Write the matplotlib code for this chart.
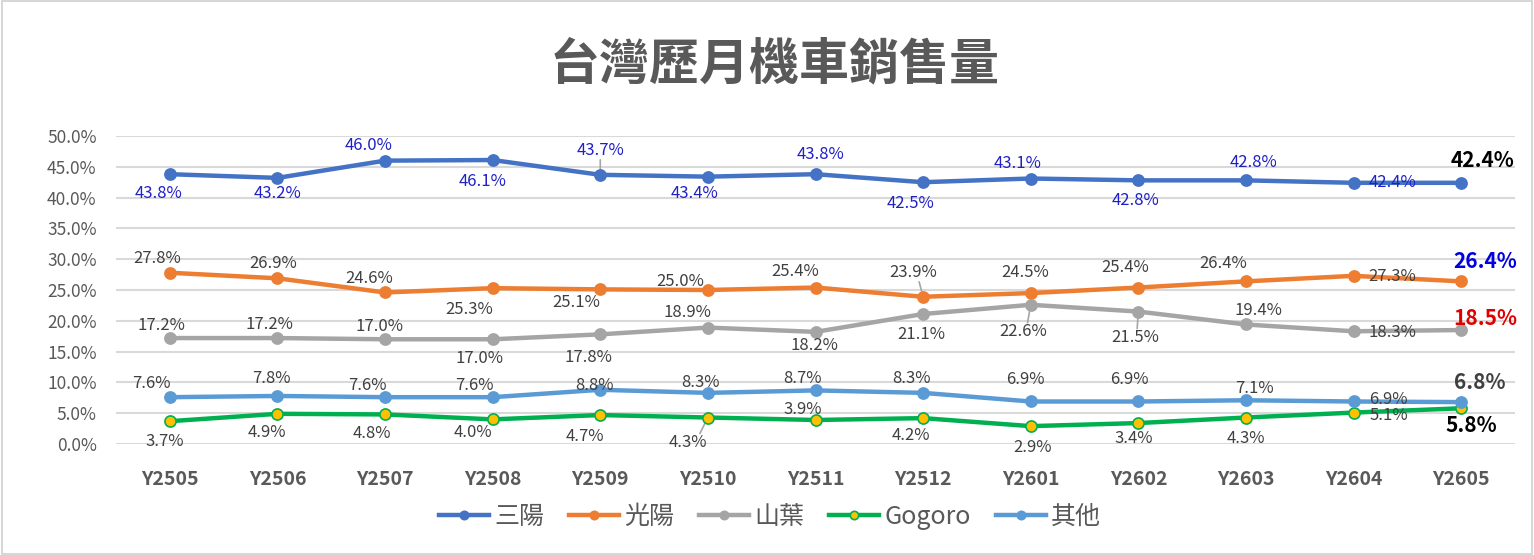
import matplotlib
matplotlib.use("Agg")
import matplotlib.pyplot as plt
from matplotlib.patches import Rectangle

plt.rcParams['font.family'] = ['Noto Sans CJK TC', 'DejaVu Sans']

months = ["Y2505", "Y2506", "Y2507", "Y2508", "Y2509", "Y2510", "Y2511",
          "Y2512", "Y2601", "Y2602", "Y2603", "Y2604", "Y2605"]

sym = [43.8, 43.2, 46.0, 46.1, 43.7, 43.4, 43.8, 42.5, 43.1, 42.8, 42.8, 42.4, 42.4]
kymco = [27.8, 26.9, 24.6, 25.3, 25.1, 25.0, 25.4, 23.9, 24.5, 25.4, 26.4, 27.3, 26.4]
yamaha = [17.2, 17.2, 17.0, 17.0, 17.8, 18.9, 18.2, 21.1, 22.6, 21.5, 19.4, 18.3, 18.5]
gogoro = [3.7, 4.9, 4.8, 4.0, 4.7, 4.3, 3.9, 4.2, 2.9, 3.4, 4.3, 5.1, 5.8]
others = [7.6, 7.8, 7.6, 7.6, 8.8, 8.3, 8.7, 8.3, 6.9, 6.9, 7.1, 6.9, 6.8]

names = ["三陽", "光陽", "山葉", "Gogoro", "其他"]

# label offsets in pixels (dx, dy; dy positive = down, like the screen)
off_sym = [(-11, 19), (0, 16), (-16, -15), (-10, 21), (0, -24), (-13, 17), (5, -20),
           (-13, 21), (-13, -15), (-3, 20), (8, -18), (39, 0), (21, -22)]
off_kymco = [(-13, -14), (-4, -15), (-16, -14), (-23, 21), (-24, 13), (-28, -9), (-20, -16),
             (-10, -24), (-6, -21), (-13, -20), (-23, -18), (39, 1), (24, -20)]
off_yamaha = [(-8, -13), (-8, -14), (-6, -13), (-13, 19), (-12, 23), (-20, -15), (-1, 14),
              (-2, 20), (-8, 27), (-3, 26), (12, -14), (39, 1), (24, -12)]
off_gogoro = [(-5, 20), (-11, 19), (-13, 19), (-20, 13), (-15, 21), (-20, 25), (-13, -10),
              (-12, 17), (2, 21), (-5, 15), (0, 21), (35, 3), (10, 17)]
off_others = [(-18, -14), (-6, -17), (-18, -12), (-18, -12), (-6, -4), (-7, -10), (-13, -12),
              (-12, -14), (-5, -22), (-9, -22), (8, -12), (35, -2), (19, -20)]

# leader lines: (series index, point index)
leaders = [(0, 4), (1, 7), (2, 8), (2, 9), (3, 5)]

series = [sym, kymco, yamaha, gogoro, others]
offsets = [off_sym, off_kymco, off_yamaha, off_gogoro, off_others]
line_colors = ["#4472C4", "#ED7D31", "#A5A5A5", "#00B050", "#5B9BD5"]
face_colors = ["#4472C4", "#ED7D31", "#A5A5A5", "#FFC000", "#5B9BD5"]
label_colors = ["#2020C8", "#404040", "#404040", "#404040", "#404040"]
last_colors = ["#000000", "#0000E0", "#E00000", "#000000", "#404040"]

fig = plt.figure(figsize=(15.34, 5.55), dpi=100)
fig.patches.append(Rectangle((0.001, 0.002), 0.998, 0.996, transform=fig.transFigure,
                             fill=False, edgecolor="#D0D0D0", linewidth=1.2))
ax = fig.add_axes([116 / 1534, 1 - 444 / 555, 1399 / 1534, 308 / 555])

x = list(range(len(months)))
for i, (vals, name) in enumerate(zip(series, names)):
    ax.plot(x, [v / 100 for v in vals], color=line_colors[i], linewidth=3.2,
            marker="o", markersize=8, markerfacecolor=face_colors[i],
            markeredgecolor=line_colors[i], markeredgewidth=1.2,
            label=name, zorder=3)

for i, vals in enumerate(series):
    for j, v in enumerate(vals):
        dx, dy = offsets[i][j]
        last = j == len(vals) - 1
        ax.annotate(f"{v:.1f}%", (j, v / 100), xytext=(dx, -dy),
                    textcoords="offset pixels", ha="center", va="center",
                    fontsize=15 if last else 12,
                    fontweight="bold" if last else "normal",
                    color=last_colors[i] if last else label_colors[i],
                    zorder=4)
for i, j in leaders:
    dx, dy = offsets[i][j]
    sgn = 1 if dy > 0 else -1
    ax.annotate("", (j, series[i][j] / 100), xytext=(dx * 0.4, -(dy - sgn * 9)),
                textcoords="offset pixels",
                arrowprops=dict(arrowstyle="-", color="#A6A6A6", lw=1.2,
                                shrinkA=0, shrinkB=4), zorder=2)

ax.set_xlim(-0.5, len(months) - 0.5)
ax.set_ylim(0, 0.5)
ax.set_yticks([k * 0.05 for k in range(11)])
ax.set_yticklabels([f"{k * 5:.1f}%" for k in range(11)])
ax.set_xticks(x)
ax.set_xticklabels(months, fontweight="bold")
ax.grid(axis="y", color="#D9D9D9", linewidth=1.5)
ax.set_axisbelow(True)
for s in ax.spines.values():
    s.set_visible(False)
ax.tick_params(axis="y", length=0, pad=14, labelsize=12.5, labelcolor="#595959")
ax.tick_params(axis="x", length=0, pad=19, labelsize=14, labelcolor="#595959")

fig.text(0.505, 1 - 65 / 555, "台灣歷月機車銷售量", ha="center", va="center",
         fontsize=36, fontweight="bold", color="#595959")

fig.legend(loc="center", bbox_to_anchor=(0.502, 1 - 517 / 555), ncol=5,
           frameon=False, fontsize=18, handlelength=2.0, columnspacing=1.0,
           handletextpad=0.2, labelcolor="#595959", markerscale=0.75)

fig.savefig("out.png", dpi=100)
